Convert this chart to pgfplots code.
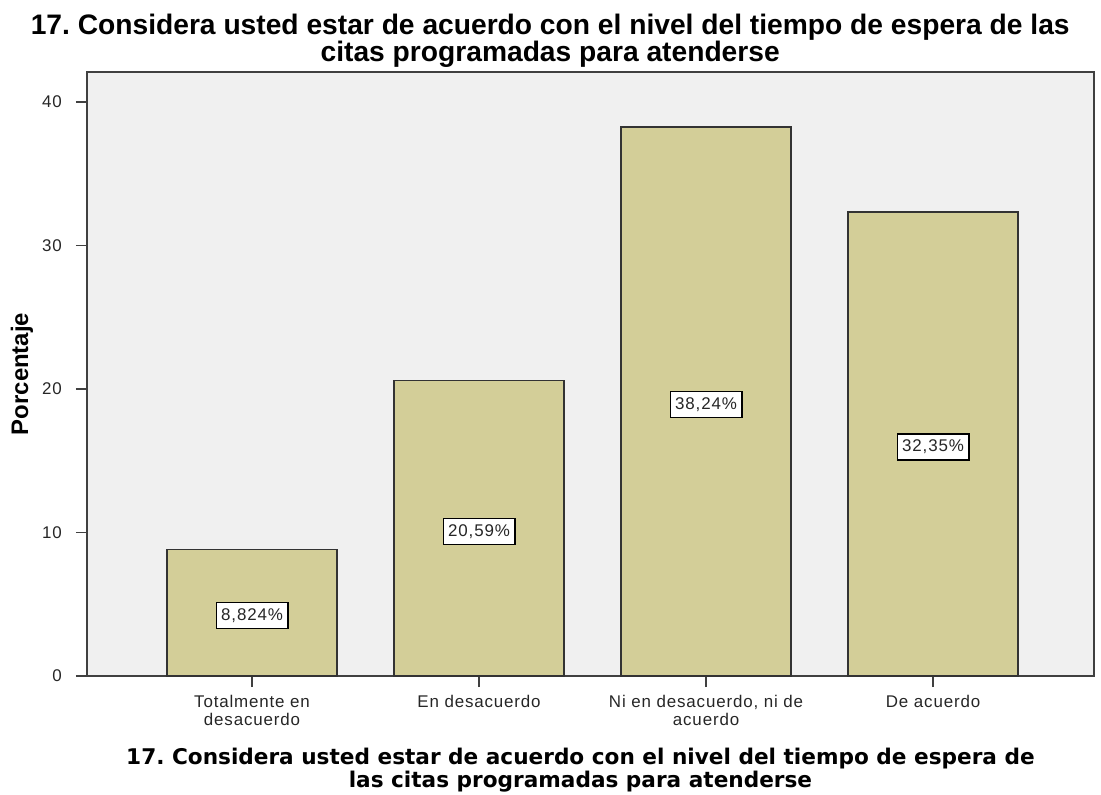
\documentclass[border=0pt]{standalone}
\usepackage{pgfplots}
\pgfplotsset{compat=1.18}
\usepackage{fontspec}
\setmainfont{Liberation Sans}
\newfontfamily\labfont[LetterSpace=5]{Liberation Sans}
\newfontfamily\xlabfont{DejaVu Sans}
\definecolor{bgcol}{HTML}{F0F0F0}
\definecolor{barcol}{HTML}{D3CE98}
\definecolor{framecol}{HTML}{404040}
\frenchspacing
\begin{document}
\frenchspacing
\begin{tikzpicture}
\path[use as bounding box] (0,0) rectangle (1101bp,795bp);
\begin{axis}[
  at={(87bp,119bp)}, anchor=south west,
  scale only axis, width=1007bp, height=604bp,
  xmin=0.273, xmax=4.709, ymin=0, ymax=42.09,
  axis background/.style={fill=bgcol},
  axis line style={draw=framecol, line width=1.8bp},
  xtick={1,2,3,4},
  xticklabels={{Totalmente en\\desacuerdo},{En desacuerdo},{Ni en desacuerdo, ni de\\acuerdo},{De acuerdo}},
  ytick={0,10,20,30,40},
  tick pos=left, tick align=outside,
  major tick length=11bp,
  tick style={draw=framecol, line width=1.5bp},
  /pgf/number format/assume math mode=true,
  ticklabel style={font=\labfont\fontsize{17}{18}\selectfont, text=black!85, inner sep=0pt},
  xticklabel style={align=center, anchor=north, yshift=-8bp},
  yticklabel style={anchor=east, xshift=-14bp},
  title={17. Considera usted estar de acuerdo con el nivel del tiempo de espera de las\\citas programadas para atenderse},
  title style={at={(0.46,1)}, anchor=south, yshift=-2bp, inner sep=0pt, align=center,
    font=\frenchspacing\fontsize{28.3}{27}\selectfont\bfseries},
  xlabel={17. Considera usted estar de acuerdo con el nivel del tiempo de espera de\\las citas programadas para atenderse},
  xlabel style={at={(0.49,0)}, anchor=north, yshift=-72bp, inner sep=0pt, align=center,
    font=\frenchspacing\xlabfont\fontsize{21.7}{23}\selectfont\bfseries},
  ylabel={Porcentaje},
  ylabel style={at={(0,0.5)}, anchor=center, yshift=65bp, inner sep=0pt,
    font=\fontsize{24}{24}\selectfont\bfseries},
  clip=false,
]
\addplot[ybar, bar width=170bp, fill=barcol, draw=black!80, line width=1.5bp]
  coordinates {(1,8.824) (2,20.59) (3,38.24) (4,32.35)};
\addplot[draw=none, mark=none, point meta=explicit symbolic,
  nodes near coords={\pgfplotspointmeta\%},
  nodes near coords align=center,
  every node near coord/.append style={anchor=center, fill=white, draw=black, line width=1.3bp,
    font=\labfont\fontsize{17}{18}\selectfont, text=black!85, inner xsep=5bp, inner ysep=0pt,
    minimum height=26bp, yshift=-3bp}]
  table[meta=label] {
x half label
1 4.412 8,824
2 10.295 20,59
3 19.12 38,24
4 16.175 32,35
};
\end{axis}
\end{tikzpicture}
\end{document}
